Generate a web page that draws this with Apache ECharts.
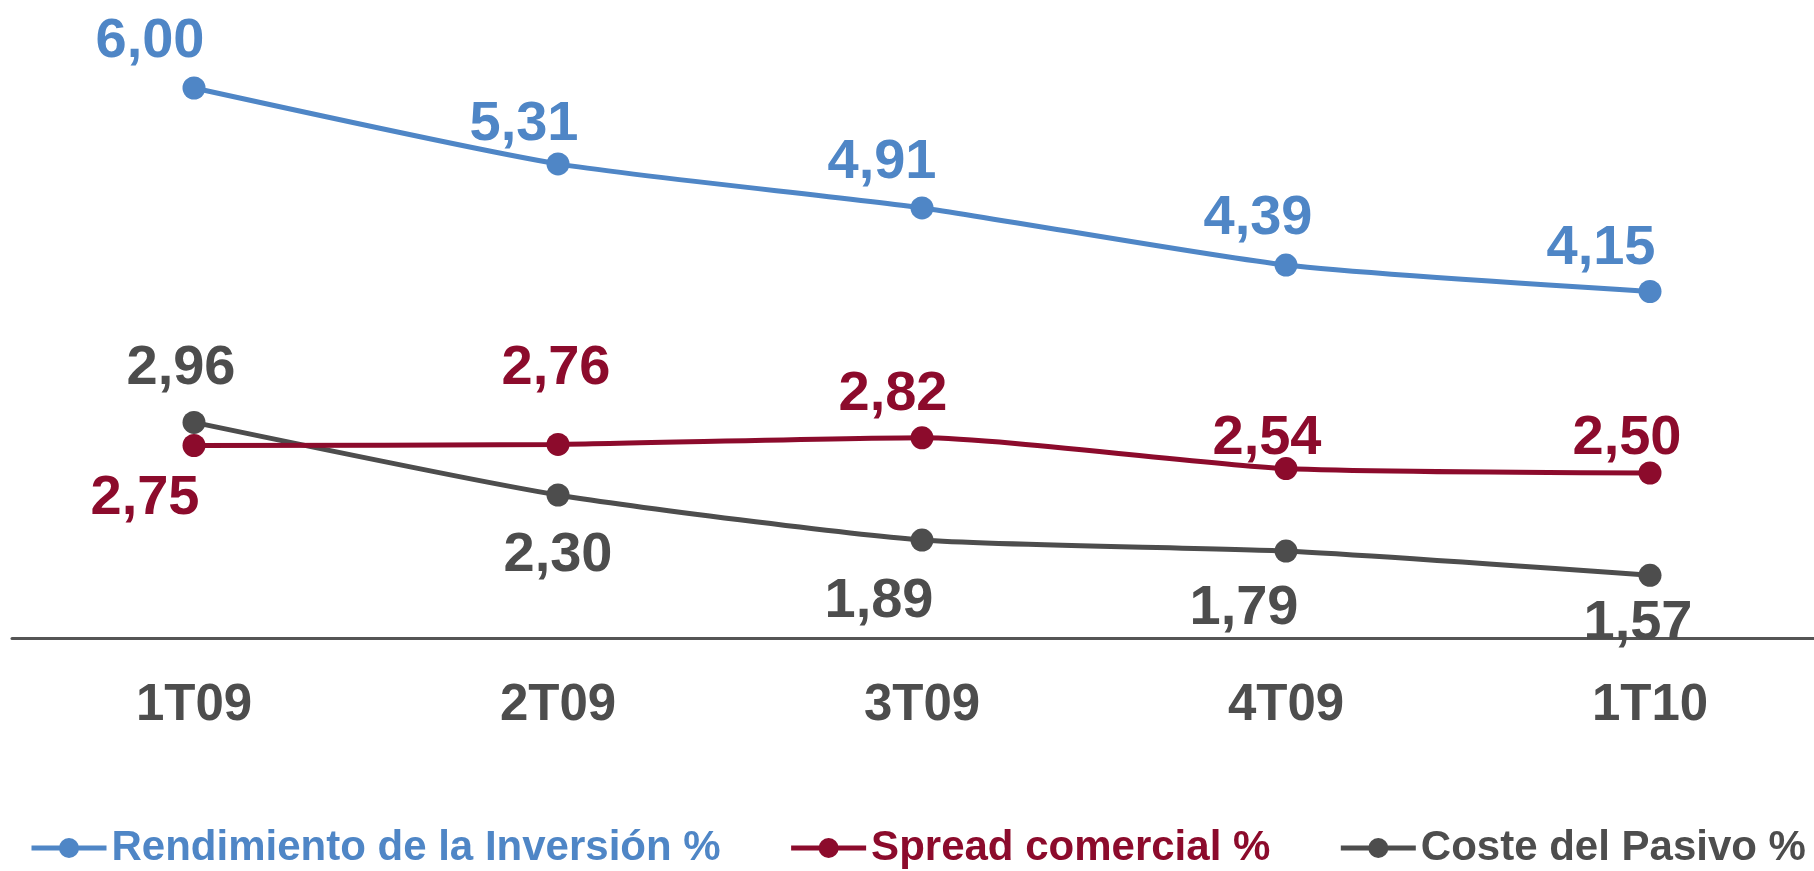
<!DOCTYPE html>
<html>
<head>
<meta charset="utf-8">
<script src="https://cdn.jsdelivr.net/npm/echarts@6/dist/echarts.min.js"></script>
<style>
  html, body { margin: 0; padding: 0; background: #ffffff; }
  #chart { width: 1814px; height: 871px; }
</style>
</head>
<body>
<div id="chart"></div>
<script>
// Quarters on the category axis
const quarters = ['1T09', '2T09', '3T09', '4T09', '1T10'];

// Series values (%)
const rendimientoInversion = [6.00, 5.31, 4.91, 4.39, 4.15];
const spreadComercial = [2.75, 2.76, 2.82, 2.54, 2.50];
const costePasivo = [2.96, 2.30, 1.89, 1.79, 1.57];

const seriesNames = ['Rendimiento de la Inversión %', 'Spread comercial %', 'Coste del Pasivo %'];
const colors = ['#4F86C6', '#8C0B2C', '#4D4D4D'];

// Where each value label sits relative to its point, in pixels [dx, dy]
const labelOffsets = [
  [[-44, -46], [-34, -39], [-40, -45], [-28, -47], [-49, -43]],
  [[-49, 53], [-2, -76], [-29, -43], [-19, -30], [-23, -34]],
  [[-13, -54], [0, 61], [-43, 61], [-42, 57], [-12, 48]]
];

const FONT = '"Liberation Sans", Arial, sans-serif';

// Values are shown with a decimal comma
function fmt(v) {
  return v.toFixed(2).replace('.', ',');
}

function buildSeries(idx, values) {
  return {
    name: seriesNames[idx],
    type: 'line',
    smooth: 0.2,
    symbol: 'circle',
    symbolSize: 23,
    lineStyle: { width: 5, color: colors[idx] },
    itemStyle: { color: colors[idx] },
    data: values.map((v, i) => ({
      value: v,
      label: { offset: labelOffsets[idx][i] }
    })),
    label: {
      show: true,
      position: 'inside',
      formatter: p => fmt(p.value),
      color: colors[idx],
      fontFamily: FONT,
      fontWeight: 'bold',
      fontSize: 56
    },
    emphasis: { disabled: true },
    z: 3 - idx
  };
}

const chart = echarts.init(document.getElementById('chart'), null, { renderer: 'canvas' });

chart.setOption({
  animation: false,
  backgroundColor: '#ffffff',
  grid: { left: 12, top: 33, width: 1820, height: 605, outerBoundsMode: 'none', containLabel: false },
  legend: {
    left: 29,
    top: 827,
    padding: 0,
    itemWidth: 75,
    itemHeight: 25,
    itemGap: 68,
    lineStyle: { width: 5 },
    data: seriesNames.map((n, i) => ({
      name: n,
      textStyle: { color: colors[i] }
    })),
    textStyle: {
      fontFamily: FONT,
      fontWeight: 'bold',
      fontSize: 42
    }
  },
  xAxis: {
    type: 'category',
    data: quarters,
    boundaryGap: true,
    axisLine: { lineStyle: { color: '#555555', width: 3 } },
    axisTick: { show: false },
    axisLabel: {
      margin: 42,
      color: '#4D4D4D',
      fontFamily: FONT,
      fontWeight: 'bold',
      fontSize: 51
    }
  },
  yAxis: {
    type: 'value',
    min: 1,
    max: 6.5,
    show: false,
    splitLine: { show: false }
  },
  series: [
    buildSeries(0, rendimientoInversion),
    buildSeries(1, spreadComercial),
    buildSeries(2, costePasivo)
  ]
});
</script>
</body>
</html>
